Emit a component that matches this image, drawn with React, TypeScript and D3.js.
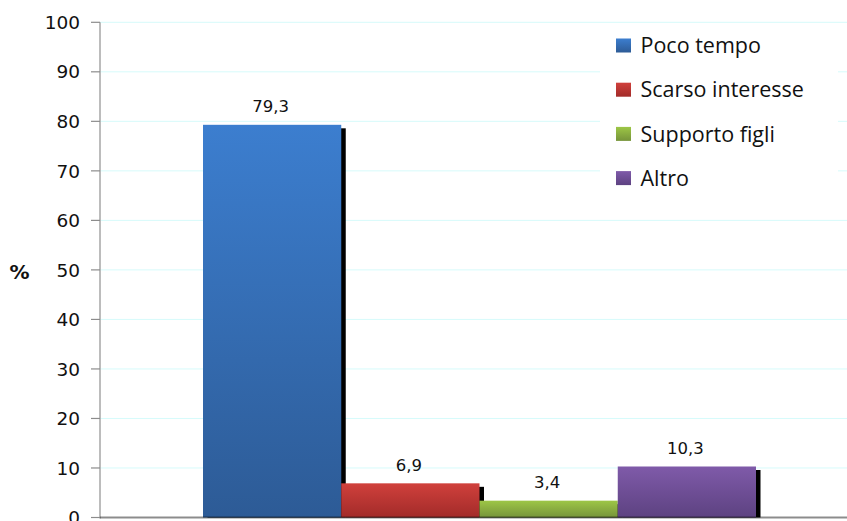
import React from "react";
import * as d3 from "d3";

const series = ["Poco tempo", "Scarso interesse", "Supporto figli", "Altro"];
const values = [79.3, 6.9, 3.4, 10.3];
const valueLabels = ["79,3", "6,9", "3,4", "10,3"];
const yTicks = [0, 10, 20, 30, 40, 50, 60, 70, 80, 90, 100];
const topColors = ["#3c7ecf", "#d0403c", "#9dc646", "#7f5aa9"];
const bottomColors = ["#2d5b96", "#a22b29", "#76943a", "#5d4281"];

const W = 847;
const H = 521;

export default function App() {
  const y = d3.scaleLinear().domain([0, 100]).range([517.5, 22.3]);
  const x = d3.scaleBand<string>().domain(series).range([203, 756]).paddingInner(0);
  const axisX = 100;
  const tickFont = "'DejaVu Sans', Verdana, sans-serif";
  const legendFont = "'Open Sans', Lato, sans-serif";
  return (
    <svg width={W} height={H} style={{ position: "absolute", left: 0, top: 0, background: "#fff" }}>
      <defs>
        {series.map((s, i) => (
          <linearGradient key={s} id={`g${i}`} x1="0" y1="0" x2="0" y2="1">
            <stop offset="0%" stopColor={topColors[i]} />
            <stop offset="100%" stopColor={bottomColors[i]} />
          </linearGradient>
        ))}
      </defs>
      {/* gridlines */}
      {yTicks.filter((t) => t > 0).map((t) => (
        <line key={t} x1={axisX} x2={W} y1={y(t)} y2={y(t)} stroke="#d6fbfb" strokeWidth={1} />
      ))}
      {/* shadows */}
      {series.map((s, i) => (
        <rect
          key={"sh" + s}
          x={(x(s) as number) + 4.5}
          y={y(values[i]) + 3.5}
          width={x.bandwidth()}
          height={y(0) - y(values[i]) - 3.5}
          fill="#000"
        />
      ))}
      {/* bars */}
      {series.map((s, i) => (
        <rect
          key={s}
          x={x(s) as number}
          y={y(values[i])}
          width={x.bandwidth()}
          height={y(0) - y(values[i])}
          fill={`url(#g${i})`}
        />
      ))}
      {/* value labels */}
      {series.map((s, i) => (
        <text
          key={"v" + s}
          x={(x(s) as number) + x.bandwidth() / 2 - 1.5}
          y={y(values[i]) - 12.5}
          textAnchor="middle"
          fontFamily={tickFont}
          fontSize={16.5}
          fill="#111"
        >
          {valueLabels[i]}
        </text>
      ))}
      {/* y axis */}
      <line x1={axisX} x2={axisX} y1={y(100)} y2={y(0) + 1} stroke="#a6a6a6" strokeWidth={1.5} />
      {yTicks.map((t) => (
        <g key={"t" + t}>
          <line x1={axisX - 9} x2={axisX} y1={y(t)} y2={y(t)} stroke="#8c8c8c" strokeWidth={1.2} />
          <text
            x={80}
            y={y(t)}
            dy="0.36em"
            textAnchor="end"
            fontFamily={tickFont}
            fontSize={18.5}
            fill="#111"
          >
            {t}
          </text>
        </g>
      ))}
      {/* x axis */}
      <line x1={axisX} x2={W} y1={y(0)} y2={y(0)} stroke="#000" strokeOpacity={0.45} strokeWidth={2} />
      {/* y axis title */}
      <text x={19.5} y={272} dy="0.36em" textAnchor="middle" fontFamily={tickFont} fontWeight="bold" fontSize={20} fill="#111">
        %
      </text>
      {/* legend */}
      <rect x={600} y={28} width={238} height={170} fill="#fff" />
      {series.map((s, i) => (
        <g key={"l" + s} transform={`translate(616, ${45.5 + i * 44.2})`}>
          <rect x={0} y={-7} width={15} height={14} fill={`url(#g${i})`} />
          <text x={24.5} y={0} dy="0.36em" fontFamily={legendFont} fontSize={21.5} fill="#111">
            {s}
          </text>
        </g>
      ))}
    </svg>
  );
}
